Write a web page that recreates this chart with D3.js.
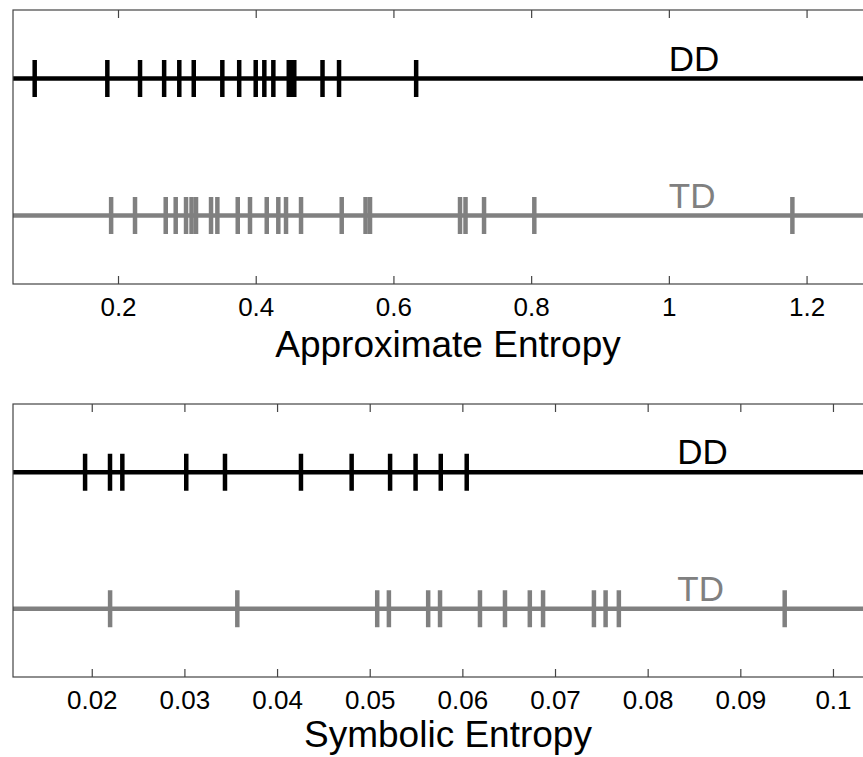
<!DOCTYPE html>
<html>
<head>
<meta charset="utf-8">
<script src="https://cdn.jsdelivr.net/npm/d3@7"></script>
<style>
  body { margin: 0; background: #fff; }
  svg { display: block; font-family: "Liberation Sans", Arial, sans-serif; }
</style>
</head>
<body>
<script>
// approximate entropy values
const apDD = [0.079, 0.1845, 0.232, 0.267, 0.289, 0.310, 0.3515, 0.376, 0.400, 0.4125, 0.4256,
              0.448, 0.452, 0.456, 0.497, 0.521, 0.633]
const apTD = [0.190, 0.2247, 0.2693, 0.2838, 0.2988, 0.3068, 0.3133, 0.3351, 0.3443, 0.3739, 0.3917,
              0.416, 0.4328, 0.444, 0.4658, 0.5249, 0.5595, 0.566, 0.6967, 0.7047, 0.7316, 0.8046, 1.1794]
const apTicks = [0.2, 0.4, 0.6, 0.8, 1, 1.2]

// symbolic entropy values
const seDD = [0.01928, 0.02197, 0.0233, 0.0302, 0.03438, 0.04258, 0.04805, 0.0522, 0.05495, 0.05767, 0.06047]
const seTD = [0.02198, 0.03571, 0.05081, 0.05207, 0.05631, 0.05759, 0.0619, 0.0646, 0.06728, 0.06871,
              0.0742, 0.07546, 0.07689, 0.09479]
const seTicks = [0.02, 0.03, 0.04, 0.05, 0.06, 0.07, 0.08, 0.09, 0.1]

const groups = ["DD", "TD"]
const groupLevel = {DD: 2, TD: 1}
const groupColor = {DD: "#000", TD: "#808080"}

const w = 863
const h = 757
const left = 13
const right = 883

const svg = d3.select("body").append("svg")
  .attr("width", w)
  .attr("height", h)

function drawPanel(opts) {
  const x = d3.scaleLinear().domain(opts.xDomain).range([left, right])
  const y = d3.scaleLinear().domain([0.5, 2.5]).range([opts.bottom, opts.top])
  const g = svg.append("g")

  // strip lines and marks
  groups.forEach((grp) => {
    const vals = opts.data[grp]
    const cy = y(groupLevel[grp])
    g.append("line")
      .attr("x1", left).attr("x2", right)
      .attr("y1", cy).attr("y2", cy)
      .attr("stroke", groupColor[grp])
      .attr("stroke-width", 4.5)
    g.selectAll(".m" + grp)
      .data(vals)
      .enter()
      .append("line")
      .attr("x1", (d) => x(d)).attr("x2", (d) => x(d))
      .attr("y1", cy - 18.5).attr("y2", cy + 18.5)
      .attr("stroke", groupColor[grp])
      .attr("stroke-width", 4.5)
    g.append("text")
      .attr("x", x(opts.labelAt))
      .attr("y", cy - 8)
      .attr("font-size", 35)
      .attr("fill", groupColor[grp])
      .text(grp)
  })

  // frame
  g.append("rect")
    .attr("x", left).attr("y", opts.top)
    .attr("width", right - left)
    .attr("height", opts.bottom - opts.top)
    .attr("fill", "none")
    .attr("stroke", "#444")
    .attr("stroke-width", 1.2)

  // inward ticks, top and bottom
  const bottomAxis = d3.axisBottom(x).tickValues(opts.ticks).tickSize(-8).tickPadding(opts.pad)
    .tickFormat(d3.format("~g"))
  const topAxis = d3.axisTop(x).tickValues(opts.ticks).tickSize(-8).tickFormat("")

  const ba = g.append("g").attr("transform", `translate(0,${opts.bottom})`).call(bottomAxis)
  const ta = g.append("g").attr("transform", `translate(0,${opts.top})`).call(topAxis)
  ;[ba, ta].forEach((a) => {
    a.select(".domain").remove()
    a.selectAll(".tick line").attr("stroke", "#444").attr("stroke-width", 1.2)
  })
  ba.attr("font-size", 26).attr("font-family", "Liberation Sans, Arial, sans-serif")
  ba.selectAll(".tick text")
    .attr("font-size", 26)
    .attr("fill", "#000")

  svg.append("text")
    .attr("x", (left + right) / 2)
    .attr("y", opts.titleY)
    .attr("text-anchor", "middle")
    .attr("font-size", 37)
    .text(opts.title)
}

drawPanel({
  xDomain: [0.0475, 1.311],
  top: 10, bottom: 284,
  data: {DD: apDD, TD: apTD},
  ticks: apTicks,
  pad: 14,
  labelAt: 1.0,
  title: "Approximate Entropy",
  titleY: 357
})

drawPanel({
  xDomain: [0.0115, 0.1054],
  top: 404, bottom: 677,
  data: {DD: seDD, TD: seTD},
  ticks: seTicks,
  pad: 14,
  labelAt: 0.0832,
  title: "Symbolic Entropy",
  titleY: 747
})
</script>
</body>
</html>
